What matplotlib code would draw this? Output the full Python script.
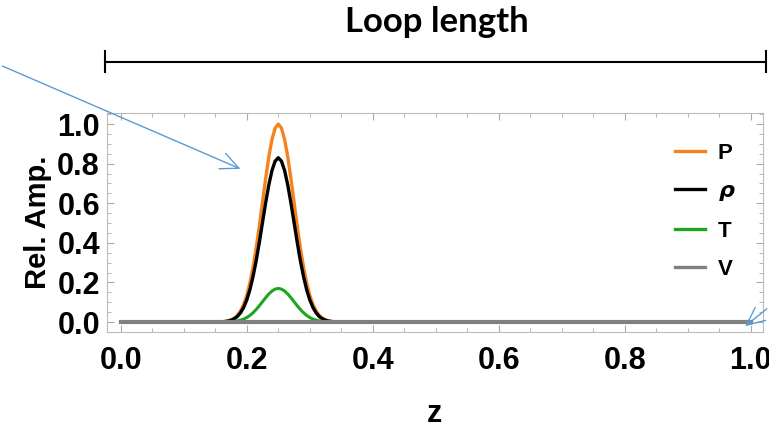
import matplotlib.pyplot as plt
from matplotlib.lines import Line2D
from matplotlib.patches import FancyArrowPatch
from matplotlib.ticker import MultipleLocator

plt.rcParams.update(
    {
        "font.family": ["Liberation Sans", "DejaVu Sans"],
        "font.weight": "bold",
    }
)

# values (relative amplitude along the loop)
z = [0.0, 0.15, 0.155, 0.16, 0.165, 0.17, 0.175, 0.18, 0.185, 0.19, 0.195,
     0.2, 0.205, 0.21, 0.215, 0.22, 0.225, 0.23, 0.235, 0.24, 0.245, 0.25,
     0.255, 0.26, 0.265, 0.27, 0.275, 0.28, 0.285, 0.29, 0.295, 0.3, 0.305,
     0.31, 0.315, 0.32, 0.325, 0.33, 0.335, 0.34, 0.345, 0.35, 1.0]
p_amp = [0.0, 0.0003, 0.0007, 0.0015, 0.0031, 0.006, 0.0111, 0.0198, 0.034,
         0.0561, 0.0889, 0.135, 0.198, 0.278, 0.375, 0.487, 0.607, 0.726,
         0.835, 0.923, 0.98, 1.0, 0.98, 0.923, 0.835, 0.726, 0.607, 0.487,
         0.375, 0.278, 0.198, 0.135, 0.0889, 0.0561, 0.034, 0.0198, 0.0111,
         0.006, 0.0031, 0.0015, 0.0007, 0.0003, 0.0]
rho_amp = [0.0, 0.0002, 0.0006, 0.0012, 0.0026, 0.005, 0.0092, 0.0164, 0.0282,
           0.0466, 0.0738, 0.112, 0.164, 0.231, 0.311, 0.404, 0.504, 0.603,
           0.693, 0.766, 0.813, 0.83, 0.813, 0.766, 0.693, 0.603, 0.504, 0.404,
           0.311, 0.231, 0.164, 0.112, 0.0738, 0.0466, 0.0282, 0.0164, 0.0092,
           0.005, 0.0026, 0.0012, 0.0006, 0.0002, 0.0]
t_amp = [0.0, 0.0001, 0.0001, 0.0003, 0.0005, 0.001, 0.0019, 0.0034, 0.0058,
         0.0095, 0.0151, 0.023, 0.0337, 0.0473, 0.0638, 0.0828, 0.1032, 0.1234,
         0.142, 0.1569, 0.1666, 0.17, 0.1666, 0.1569, 0.142, 0.1234, 0.1032,
         0.0828, 0.0638, 0.0473, 0.0337, 0.023, 0.0151, 0.0095, 0.0058, 0.0034,
         0.0019, 0.001, 0.0005, 0.0003, 0.0001, 0.0001, 0.0]
v_z = [0.0, 1.0]
v_amp = [0.0, 0.0]

labels = ["P", r"$\boldsymbol{\rho}$", "T", "V"]
colors = ["#F5821F", "#000000", "#1EA51E", "#808080"]

fig = plt.figure(figsize=(7.69, 4.26), dpi=100)
ax = fig.add_axes([0.139, 0.2207, 0.853, 0.514])

ax.plot(z, p_amp, color=colors[0], lw=2.4)
ax.plot(z, rho_amp, color=colors[1], lw=2.4)
ax.plot(z, t_amp, color=colors[2], lw=2.2)
ax.plot(v_z, v_amp, color=colors[3], lw=3)

ax.set_xlim(-0.022, 1.019)
ax.set_ylim(-0.05, 1.056)
ax.xaxis.set_major_locator(MultipleLocator(0.2))
ax.xaxis.set_minor_locator(MultipleLocator(0.05))
ax.yaxis.set_major_locator(MultipleLocator(0.2))
ax.yaxis.set_minor_locator(MultipleLocator(0.05))
ax.xaxis.set_major_formatter(plt.FormatStrFormatter("%.1f"))
ax.yaxis.set_major_formatter(plt.FormatStrFormatter("%.1f"))

for s in ax.spines.values():
    s.set_color("#BBBBBB")
ax.tick_params(which="both", direction="in", top=True, right=True,
               color="#AAAAAA", labelsize=22)
ax.tick_params(which="major", length=5)
ax.tick_params(which="minor", length=3)
ax.tick_params(axis="x", pad=10)
ax.tick_params(axis="y", pad=5)

ax.set_ylabel("Rel. Amp.", fontsize=21, fontweight="bold", labelpad=4)
ax.set_xlabel("z", fontsize=22, fontweight="bold", labelpad=17)

handles = [Line2D([], [], color=c, lw=2.4) for c in colors]
ax.legend(handles, labels, loc="upper left", bbox_to_anchor=(0.835, 0.955),
          frameon=False, prop={"size": 16, "weight": "bold"},
          handlelength=1.35, handletextpad=0.6, labelspacing=0.78)

# "Loop length" bracket above the axes
fig.text(437 / 769, 1 - 32 / 426, "Loop length", ha="center", va="baseline",
         fontsize=25, fontweight="bold", family="Lato")
fig.add_artist(Line2D([105 / 769, 766 / 769], [1 - 62 / 426] * 2,
                      color="black", lw=1.5))
for xp in (105, 766):
    fig.add_artist(Line2D([xp / 769] * 2, [1 - 51 / 426, 1 - 72 / 426],
                          color="black", lw=1.5))

# blue pointer arrows
arrow_style = "->,head_length=13,head_width=6"
fig.add_artist(FancyArrowPatch((0, 1 - 65 / 426), (243 / 769, 1 - 170 / 426),
                               transform=fig.transFigure, arrowstyle=arrow_style,
                               color="#5B9BD5", lw=1))
fig.add_artist(FancyArrowPatch((1.0, 1 - 307 / 426), (743 / 769, 1 - 328 / 426),
                               transform=fig.transFigure, arrowstyle=arrow_style,
                               color="#5B9BD5", lw=1))

fig.savefig("out.png", dpi=100)
